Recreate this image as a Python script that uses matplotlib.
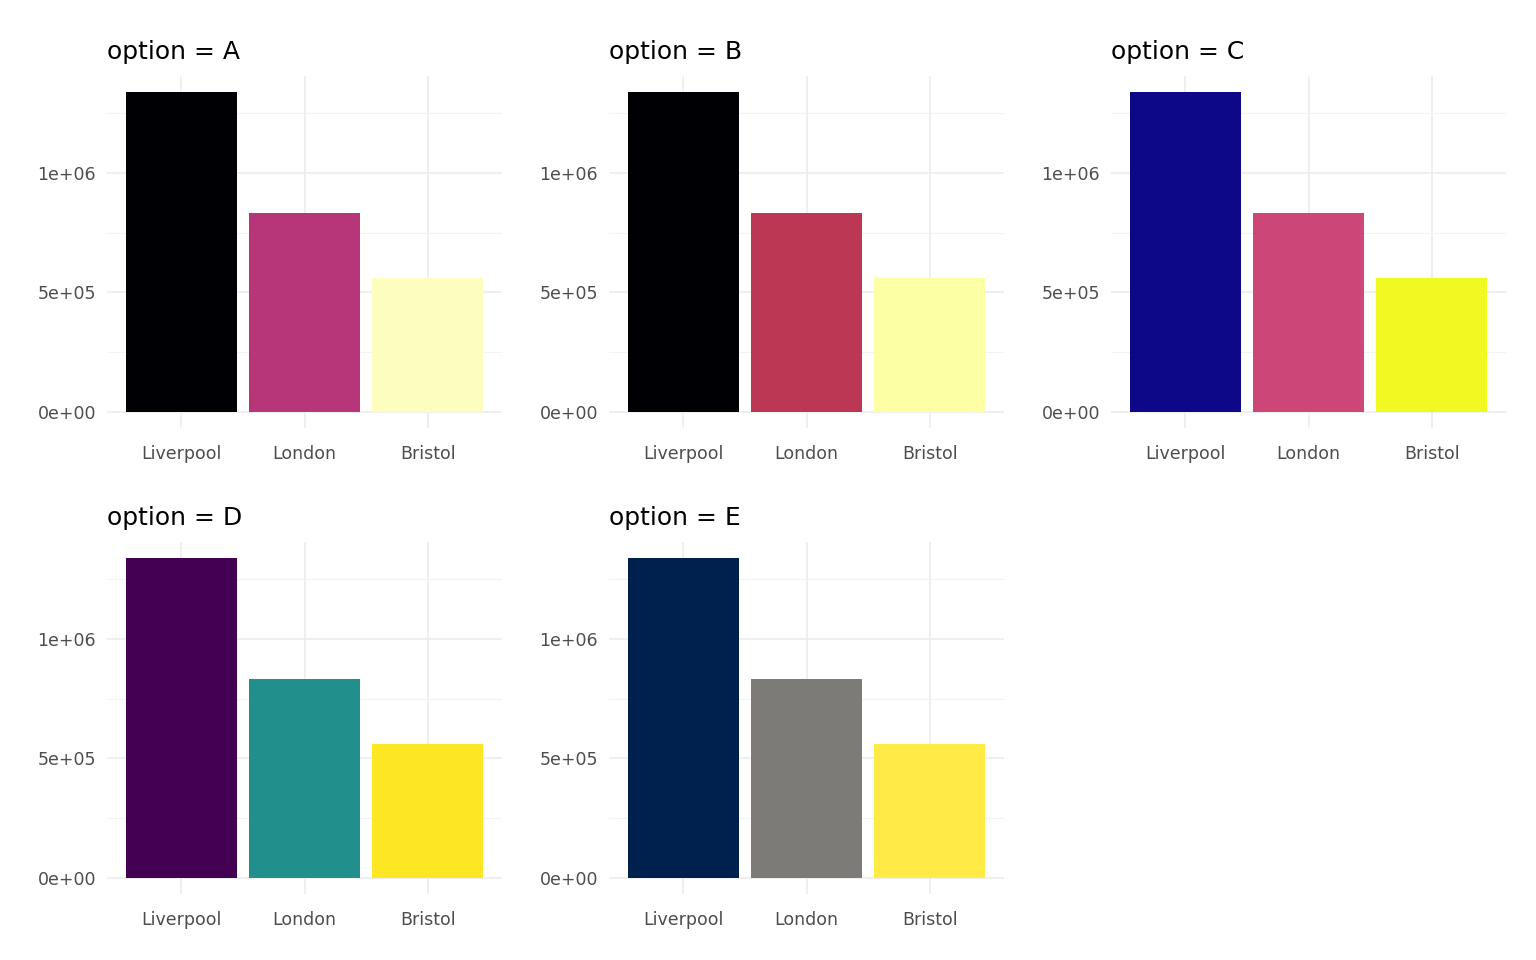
import matplotlib
matplotlib.use("Agg")
import matplotlib.pyplot as plt
from matplotlib.ticker import FixedLocator

cities = ["Liverpool", "London", "Bristol"]
values = [1338000, 833000, 561000]
options = ["A", "B", "C", "D", "E"]
palettes = {
    "A": ["#000004", "#B63679", "#FCFDBF"],
    "B": ["#000004", "#BB3754", "#FCFFA4"],
    "C": ["#0D0887", "#CC4678", "#F0F921"],
    "D": ["#440154", "#21908C", "#FDE725"],
    "E": ["#00204D", "#7C7B78", "#FFEA46"],
}
ylabels = ["0e+00", "5e+05", "1e+06"]

fig = plt.figure(figsize=(15.36, 9.6), dpi=100)
lefts = [107, 609, 1111]
bottoms = [428, 894]
W, H = 395, 352
for i, opt in enumerate(options):
    r, c = divmod(i, 3)
    ax = fig.add_axes([lefts[c] / 1536, (960 - bottoms[r]) / 960, W / 1536, H / 960])
    x = range(1, 4)
    ax.bar(x, values, width=0.9, color=palettes[opt], zorder=2)
    vmax = max(values)
    ax.set_ylim(-0.05 * vmax, 1.05 * vmax)
    ax.set_xlim(0.4, 3.6)
    ax.set_xticks(list(x))
    ax.set_xticklabels(cities)
    ax.set_yticks([0, 5e5, 1e6])
    ax.set_yticklabels(ylabels)
    ax.yaxis.set_minor_locator(FixedLocator([2.5e5, 7.5e5, 1.25e6]))
    ax.grid(True, which="major", color="#EBEBEB", lw=1.1, zorder=0)
    ax.grid(True, which="minor", axis="y", color="#F3F3F3", lw=0.8, zorder=0)
    ax.tick_params(which="both", length=0, labelsize=12.5, colors="#4D4D4D", pad=8)
    ax.tick_params(axis="x", pad=12)
    for s in ax.spines.values():
        s.set_visible(False)
    ax.set_title(f"option = {opt}", loc="left", fontsize=18, pad=12, x=0)
fig.savefig("out.png", dpi=100)
